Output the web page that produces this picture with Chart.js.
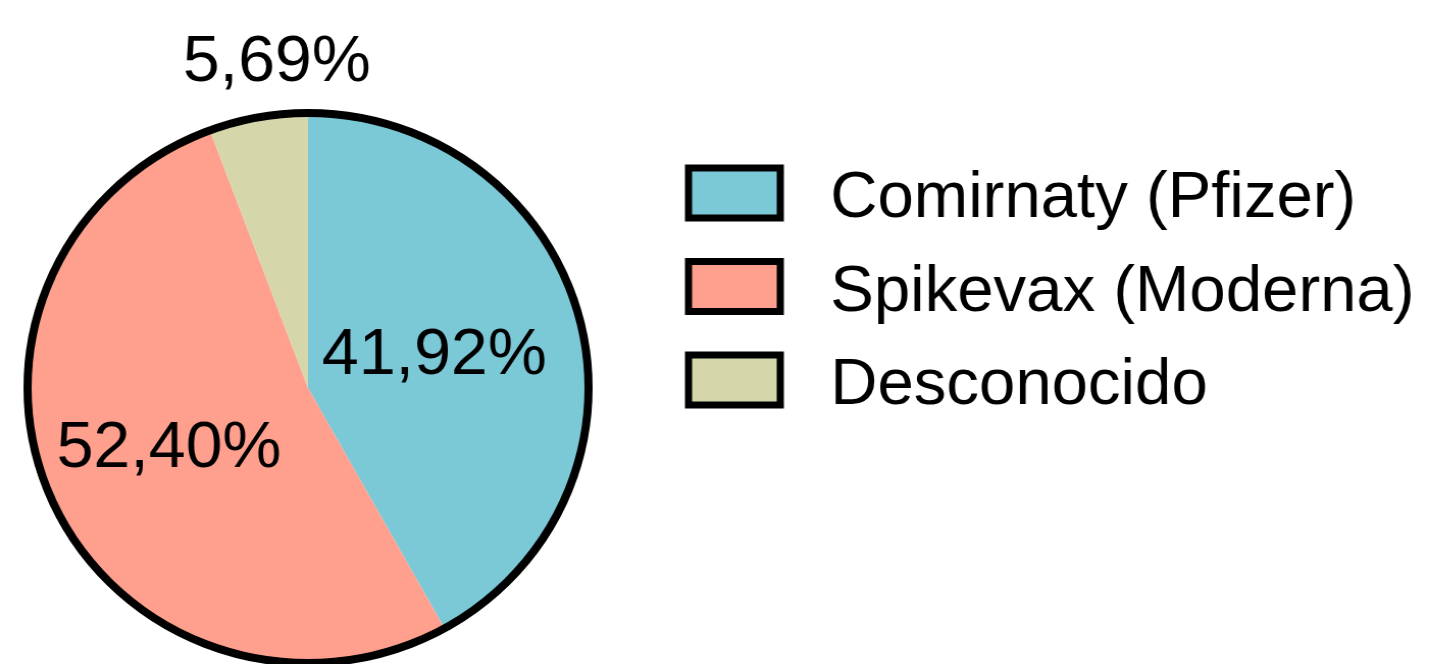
<!DOCTYPE html>
<html>
<head>
<meta charset="utf-8">
<script src="https://cdn.jsdelivr.net/npm/chart.js@4/dist/chart.umd.min.js"></script>
<style>
    html, body { margin: 0; padding: 0; background: #ffffff; overflow: hidden; }
    #wrap { width: 1439px; height: 664px; overflow: hidden; }
    #vacunaChart { display: block; transform: scaleX(1.02); transform-origin: 0 0; }
</style>
</head>
<body>
<div id="wrap"><canvas id="vacunaChart" width="1411" height="664"></canvas></div>
<script>
const vacunaLabels = ["Comirnaty (Pfizer)", "Spikevax (Moderna)", "Desconocido"];
const vacunaValues = [41.92, 52.40, 5.69];
const vacunaColors = ["#7bc8d6", "#ffa08f", "#d5d7ab"];

const fontFamily = "'Liberation Sans', Arial, sans-serif";

function formatPercent(value) {
    return value.toFixed(2).replace(".", ",") + "%";
}

// label placement: fraction of the radius along the slice middle angle
const labelPlacement = [
    { r: 0.465, dx: 0 },
    { r: 0.53, dx: -4 },
    { r: 1.2, dx: 28 }
];

const pieOutline = {
    id: "pieOutline",
    afterDatasetsDraw(chart) {
        const arc = chart.getDatasetMeta(0).data[0];
        if (!arc) return;
        const ctx = chart.ctx;
        ctx.save();
        ctx.beginPath();
        ctx.arc(arc.x, arc.y, arc.outerRadius, 0, Math.PI * 2);
        ctx.lineWidth = 8;
        ctx.strokeStyle = "#000000";
        ctx.stroke();
        ctx.restore();
    }
};

const sliceLabels = {
    id: "sliceLabels",
    afterDraw(chart) {
        const ctx = chart.ctx;
        const meta = chart.getDatasetMeta(0);
        ctx.save();
        ctx.font = "65px " + fontFamily;
        ctx.fillStyle = "#000000";
        ctx.textAlign = "center";
        ctx.textBaseline = "middle";
        meta.data.forEach((arc, i) => {
            const mid = (arc.startAngle + arc.endAngle) / 2;
            const place = labelPlacement[i];
            const x = arc.x + Math.cos(mid) * arc.outerRadius * place.r + place.dx;
            const y = arc.y + Math.sin(mid) * arc.outerRadius * place.r;
            ctx.fillText(formatPercent(vacunaValues[i]), x, y);
        });
        ctx.restore();
    }
};

const boxLegend = {
    id: "boxLegend",
    afterDraw(chart) {
        const ctx = chart.ctx;
        const left = 675;
        const top = 168;
        const rowHeight = 93.5;
        ctx.save();
        ctx.font = "64px " + fontFamily;
        ctx.textAlign = "left";
        ctx.textBaseline = "alphabetic";
        chart.data.labels.forEach((label, i) => {
            const y = top + i * rowHeight;
            ctx.fillStyle = chart.data.datasets[0].backgroundColor[i];
            ctx.fillRect(left, y, 90, 50);
            ctx.lineWidth = 7;
            ctx.strokeStyle = "#000000";
            ctx.strokeRect(left, y, 90, 50);
            ctx.fillStyle = "#000000";
            ctx.fillText(label, left + 139, y + 49);
        });
        ctx.restore();
    }
};

new Chart(document.getElementById("vacunaChart"), {
    type: "pie",
    data: {
        labels: vacunaLabels,
        datasets: [{
            data: vacunaValues,
            backgroundColor: vacunaColors,
            borderWidth: 0
        }]
    },
    options: {
        responsive: false,
        animation: false,
        layout: {
            padding: { left: 27, top: 113, right: 834, bottom: 1 }
        },
        plugins: {
            legend: { display: false },
            tooltip: { enabled: false }
        }
    },
    plugins: [pieOutline, sliceLabels, boxLegend]
});
</script>
</body>
</html>
